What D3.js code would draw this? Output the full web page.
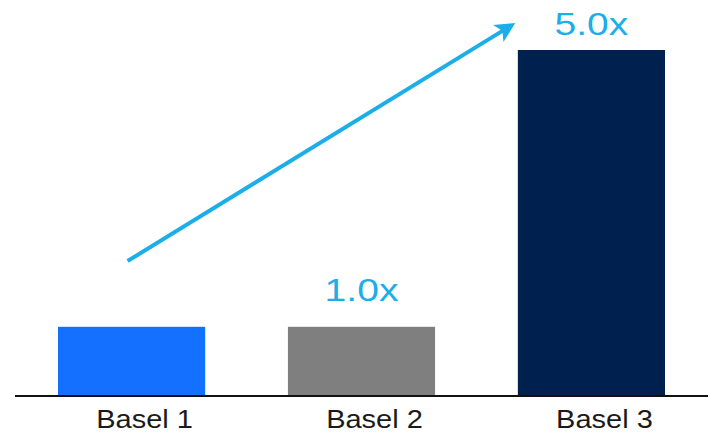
<!DOCTYPE html>
<html>
<head>
<meta charset="utf-8">
<script src="https://cdn.jsdelivr.net/npm/d3@7"></script>
<style>
  body { margin: 0; background: #fff; }
  svg { display: block; }
</style>
</head>
<body>
<div id="chart"></div>
<script>
// chart values
const categories = ['Basel 1', 'Basel 2', 'Basel 3'];
const values = [1, 1, 5];
const barColors = ['#1470FF', '#7F7F7F', '#00214F'];
const valueLabels = ['', '1.0x', '5.0x'];
// arrow annotation, in data terms: [category, value]
const arrowStart = ['Basel 1', 1.95];
const arrowEnd = ['Basel 3', 5.36];

const width = 710;
const height = 433;
const baseY = 396;
const accent = '#1BAEE8';

const svg = d3.select('#chart')
  .append('svg')
  .attr('width', width)
  .attr('height', height);

const x = d3.scaleBand()
  .domain(categories)
  .range([58, 665])
  .paddingInner(0.36)
  .paddingOuter(0);

const y = d3.scaleLinear()
  .domain([0, 5])
  .range([baseY, 50]);

// bars
svg.append('g')
  .selectAll('rect')
  .data(values)
  .enter()
  .append('rect')
  .attr('x', (d, i) => x(categories[i]))
  .attr('y', d => y(d))
  .attr('width', x.bandwidth())
  .attr('height', d => y(0) - y(d))
  .style('fill', (d, i) => barColors[i]);

// baseline axis with category labels
const axis = svg.append('g')
  .attr('transform', 'translate(0,' + baseY + ')')
  .call(d3.axisBottom(x).tickSize(0).tickPadding(0));
axis.select('.domain').remove();
axis.append('line')
  .attr('x1', 15).attr('x2', 708)
  .attr('stroke', '#111').attr('stroke-width', 2);
axis.selectAll('.tick text')
  .attr('font-family', 'Liberation Sans, Arial, sans-serif')
  .attr('font-size', 25)
  .attr('fill', '#1a1a1a')
  .attr('dy', null)
  .attr('y', 0)
  .attr('transform', 'translate(13,32) scale(1.16,1)');

// value labels, kept clear of the top edge
svg.append('g')
  .selectAll('text')
  .data(values)
  .enter()
  .append('text')
  .attr('transform', (d, i) =>
    'translate(' + (x(categories[i]) + x.bandwidth() / 2) + ',' + Math.max(y(d) - 26, 35) + ') scale(1.26,1)')
  .attr('text-anchor', 'middle')
  .attr('font-family', 'Liberation Sans, Arial, sans-serif')
  .attr('font-size', 31)
  .attr('fill', accent)
  .text((d, i) => valueLabels[i]);

// arrow
svg.append('defs').append('marker')
  .attr('id', 'head')
  .attr('viewBox', '0 0 10 10')
  .attr('refX', 8).attr('refY', 5)
  .attr('markerWidth', 5).attr('markerHeight', 5)
  .attr('orient', 'auto')
  .append('path')
  .attr('d', 'M0,0 L10,5 L0,10 L2.5,5 Z')
  .attr('fill', accent);

svg.append('line')
  .attr('x1', x(arrowStart[0]) + x.bandwidth() / 2 - 4)
  .attr('y1', y(arrowStart[1]))
  .attr('x2', x(arrowEnd[0]) - 6)
  .attr('y2', y(arrowEnd[1]))
  .attr('stroke', accent)
  .attr('stroke-width', 4)
  .attr('marker-end', 'url(#head)');
</script>
</body>
</html>
